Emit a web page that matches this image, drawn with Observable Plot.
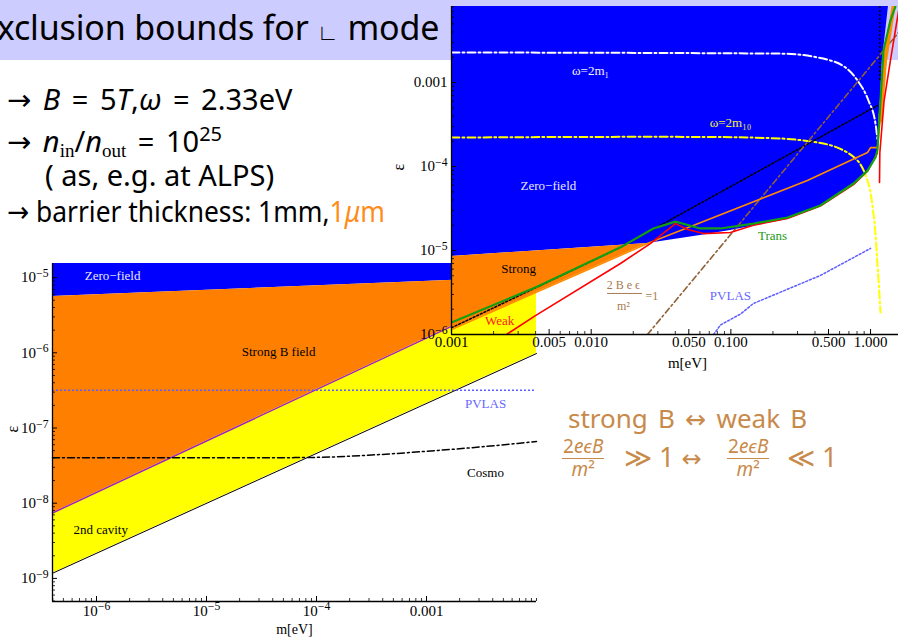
<!DOCTYPE html>
<html><head><meta charset="utf-8">
<script src="https://cdn.jsdelivr.net/npm/d3@7"></script>
<script src="https://cdn.jsdelivr.net/npm/@observablehq/plot@0.6"></script>
<style>
html,body{margin:0;padding:0;width:898px;height:640px;overflow:hidden;background:#fff;}
#stage{position:relative;width:898px;height:640px;overflow:hidden;font-family:"Noto Sans",sans-serif;color:#000;}
.abs{position:absolute;white-space:nowrap;line-height:1;}
#titlebar{left:0;top:0;width:898px;height:60px;background:#ccccff;}
#title{left:-22px;top:10px;font-size:34px;letter-spacing:-0.15px;}
.bul{font-size:29px;}
.ar{font-family:"DejaVu Sans",sans-serif;}
.m{font-style:italic;}
.rm{font-family:"Liberation Serif",serif;}
.or{color:#ff8c1a;}
.tan{color:#c88a4a;}
.chart{position:absolute;}
.frac{position:absolute;text-align:center;font-size:19px;line-height:1;color:#c88a4a;}
.frac .num{border-bottom:1.6px solid #c88a4a;padding:0 1px 2px 1px;}
.frac .den{padding-top:1px;}
sub{font-size:19px;vertical-align:-5px;}
sup{font-size:20px;vertical-align:11px;}
</style></head><body><div id="stage">
<div id="titlebar" class="abs"></div>
<div id="title" class="abs">Exclusion bounds for <span style="font-size:22px">∟</span> mode</div>
<div class="abs bul" style="left:7px;top:84px;word-spacing:4px"><span class="ar">→</span> <span class="m">B</span> = 5<span class="m">T</span>,<span class="m">ω</span> = 2.33eV</div>
<div class="abs bul" style="left:7px;top:124px;word-spacing:4px"><span class="ar">→</span> <span class="m">n</span><sub class="rm">in</sub>/<span class="m">n</span><sub class="rm">out</sub> = 10<sup>25</sup></div>
<div class="abs bul" style="left:45px;top:160px">( as, e.g. at ALPS)</div>
<div class="abs bul" style="left:7px;top:196px;transform:scaleX(0.91);transform-origin:0 0"><span class="ar">→</span> barrier thickness: 1mm,<span class="or">1<span class="m">μ</span>m</span></div>
<div id="lower" class="chart" style="left:0;top:240px"></div>
<div id="upper" class="chart" style="left:380px;top:0"></div>
<div class="abs tan" style="left:568px;top:405px;font-size:26px;word-spacing:3.5px">strong B <span class="ar" style="font-size:25px">↔</span> weak B</div>
<div class="frac" style="left:562px;top:437px"><div class="num">2<span class="m">eϵB</span></div><div class="den"><span class="m">m</span>²</div></div>
<div class="abs tan" style="left:624px;top:443px;font-size:27px">≫ 1 <span class="ar" style="font-size:24px">↔</span></div>
<div class="frac" style="left:727px;top:437px"><div class="num">2<span class="m">eϵB</span></div><div class="den"><span class="m">m</span>²</div></div>
<div class="abs tan" style="left:787px;top:443px;font-size:27px">≪ 1</div>
</div>
<script>
// ================= LOWER CHART DATA =================
const lowXDomain = [3.98e-7, 1e-2];
const lowYDomain = [4.93e-10, 1.54e-5];
const lowBoundM = [3.98e-7, 1e-2];
const lowZeroFieldEps = [5.62e-6, 1.02e-5];   // lower edge of zero-field region
const lowStrongEps = [7.41e-9, 7.59e-6];      // strong / weak boundary (purple)
const lowCavityEps = [1.17e-9, 9.77e-7];      // 2nd cavity bound (black)
const lowPvlasEps = 3.18e-7;
const cosmoM = [3.98e-7, 3.16e-5, 1e-4, 3.16e-4, 1e-3, 3.16e-3, 1e-2];
const cosmoEps = [4.02e-8, 4.02e-8, 4.07e-8, 4.37e-8, 4.90e-8, 5.62e-8, 6.61e-8];
const lowLabels = ["Zero−field", "Strong B field", "PVLAS", "Cosmo", "2nd cavity"];
const lowLabelM = [1.40e-6, 4.52e-5, 3.44e-3, 3.44e-3, 1.09e-6];
const lowLabelEps = [1.06e-5, 1.03e-6, 2.09e-7, 2.51e-8, 4.37e-9];
const lowLabelColors = ["#e8e8ff", "#000", "#6666ff", "#000", "#000"];
const lowXMajor = [1e-6, 1e-5, 1e-4, 1e-3];
const lowXTickLabels = ["10⁻⁶", "10⁻⁵", "10⁻⁴", "0.001"];
const lowYMajor = [1e-9, 1e-8, 1e-7, 1e-6, 1e-5];
const lowYTickLabels = ["10⁻⁹", "10⁻⁸", "10⁻⁷", "10⁻⁶", "10⁻⁵"];

// ================= UPPER CHART DATA =================
const upXDomain = [1e-3, 1.585];
const upYDomain = [1e-6, 8.04e-3];
const zeroM   = [1e-3, 0.0253, 0.0605, 0.0993, 0.254, 0.437, 0.755, 0.951, 1.12, 1.159, 1.216, 1.343];
const zeroEps = [8.51e-6, 1.21e-5, 1.51e-5, 1.73e-5, 2.34e-5, 3.34e-5, 5.94e-5, 8.71e-5, 1.43e-4, 3.53e-4, 1.83e-3, 8.04e-3];
const strongM = [1e-3, 0.0253];
const strongLow = [1.15e-6, 1.21e-5];
const strongHigh = [8.51e-6, 1.21e-5];
const transM   = [1e-3, 0.00413, 0.0162, 0.0279, 0.0401, 0.0605, 0.0843, 0.145, 0.254, 0.437, 0.755, 0.951, 1.084, 1.12, 1.178, 1.237, 1.387, 1.507];
const transEps = [1.39e-6, 3.72e-6, 1.09e-5, 1.83e-5, 2.21e-5, 1.83e-5, 1.83e-5, 2.09e-5, 2.47e-5, 3.44e-5, 6.28e-5, 8.95e-5, 1.28e-4, 1.55e-4, 6.11e-4, 2.40e-3, 5.47e-3, 8.04e-3];
const weakM   = [0.00248, 0.00399, 0.0162, 0.0265, 0.0401, 0.0489, 0.0637, 0.0993, 0.145, 0.254, 0.437, 0.755, 0.951, 1.12];
const weakEps = [1e-6, 1.68e-6, 7.0e-6, 1.21e-5, 2.09e-5, 1.78e-5, 1.59e-5, 1.64e-5, 2.0e-5, 2.40e-5, 3.39e-5, 6.1e-5, 8.8e-5, 1.45e-4];
const weak2M   = [1.159, 1.165, 1.25, 1.40, 1.585];
const weak2Eps = [6.46e-5, 1.45e-4, 6.1e-4, 2.0e-3, 7.0e-3];
const orangeM   = [1e-3, 0.0253, 0.353, 0.951, 1.0, 1.12, 1.17, 1.27, 1.46];
const orangeEps = [1.15e-6, 1.21e-5, 6.81e-5, 1.47e-4, 1.68e-4, 1.68e-4, 3.5e-4, 1.8e-3, 8.04e-3];
const dotM   = [1e-3, 0.0162, 1.12];
const dotEps = [1.2e-6, 1.09e-5, 5.32e-4];
const mMax = 1.165, mMaxEpsLow = 1.06e-3;
const w1M   = [1e-3, 0.226, 0.516, 0.805, 0.966, 1.084, 1.14];
const w1Eps = [2.28e-3, 2.21e-3, 1.83e-3, 1.06e-3, 6.11e-4, 3.25e-4, 1.68e-4];
const w10M   = [1e-3, 0.145, 0.331, 0.579, 0.805, 0.951, 1.05, 1.12, 1.178];
const w10Eps = [2.21e-4, 2.21e-4, 2.04e-4, 1.68e-4, 1.18e-4, 6.81e-5, 2.75e-5, 7.0e-6, 1.83e-6];
const brownM = [0.0253, 1.585];
const brownEps = [1e-6, 3.93e-3];
const pvlasM   = [0.0752, 0.0843, 0.117, 0.145, 0.437, 1.0];
const pvlasEps = [1e-6, 1.3e-6, 1.75e-6, 2.34e-6, 5.04e-6, 1.06e-5];
const upLabels = ["ω=2m₁", "ω=2m₁₀", "Zero−field", "Strong", "Weak", "Trans", "PVLAS"];
const upLabelM = [9.89e-3, 0.0993, 4.94e-3, 3.02e-3, 2.21e-3, 0.199, 0.0993];
const upLabelEps = [1.39e-3, 3.34e-4, 5.94e-5, 6.11e-6, 1.47e-6, 1.51e-5, 2.91e-6];
const upLabelColors = ["#f4f4ff", "#f0f040", "#e8e8ff", "#000", "#ff1a1a", "#1a9a1a", "#6666ff"];
const upLabelItalic = ["italic", "italic", "normal", "normal", "normal", "normal", "normal"];
const fracParts = ["2 B e ϵ", "m²", "=1"];
const fracM = [0.017, 0.017, 0.0272];
const fracEps = [3.83e-6, 2.15e-6, 2.83e-6];
const fracBarM = [0.0131, 0.0233];
const fracBarEps = 3.08e-6;
const upXMajor = [0.001, 0.005, 0.01, 0.05, 0.1, 0.5, 1];
const upXTickLabels = ["0.001", "0.005", "0.010", "0.050", "0.100", "0.500", "1.000"];
const upYMajor = [1e-6, 1e-5, 1e-4, 1e-3];
const upYTickLabels = ["10⁻⁶", "10⁻⁵", "10⁻⁴", "0.001"];

// ================= helpers =================
const idx = a => a.map((_, i) => i);
const minorTicks = (domain, majors) =>
  d3.scaleLog().domain(domain).ticks().filter(t => !majors.some(m => Math.abs(m - t) / m < 1e-9));
const SERIF = "Liberation Serif, Times New Roman, serif";

function tickMarks(xDom, yDom, xMajor, yMajor, innerW, innerH) {
  const xMinor = minorTicks(xDom, xMajor), yMinor = minorTicks(yDom, yMajor);
  return [
    Plot.tickX(xMajor, {x: d => d, insetTop: innerH - 5, stroke: "#000", strokeWidth: 1}),
    Plot.tickX(xMinor, {x: d => d, insetTop: innerH - 3, stroke: "#000", strokeWidth: 0.8}),
    Plot.tickY(yMajor, {y: d => d, insetRight: innerW - 5, stroke: "#000", strokeWidth: 1}),
    Plot.tickY(yMinor, {y: d => d, insetRight: innerW - 3, stroke: "#000", strokeWidth: 0.8}),
    Plot.ruleX([xDom[0]], {stroke: "#000", strokeWidth: 1.3}),
    Plot.ruleY([yDom[0]], {stroke: "#000", strokeWidth: 1.3})
  ];
}

// turn "10⁻⁶" tick labels into 10 + raised superscript
function fixSuperscripts(svg) {
  const map = {"⁻": "−", "⁰": "0", "¹": "1", "²": "2", "³": "3", "⁴": "4", "⁵": "5", "⁶": "6", "⁷": "7", "⁸": "8", "⁹": "9"};
  svg.querySelectorAll("text").forEach(node => {
    const t = node.textContent;
    const m = t.match(/^10([⁻⁰¹²³⁴⁵⁶⁷⁸⁹]+)$/u);
    if (!m) return;
    node.textContent = "10";
    const ts = document.createElementNS("http://www.w3.org/2000/svg", "tspan");
    ts.setAttribute("dy", "-0.45em");
    ts.setAttribute("font-size", "0.78em");
    ts.textContent = [...m[1]].map(c => map[c]).join("");
    node.appendChild(ts);
  });
}

// ================= LOWER CHART =================
const lowB = idx(lowBoundM);
const lower = Plot.plot({
  width: 560, height: 400,
  marginLeft: 52, marginRight: 24, marginTop: 23, marginBottom: 39,
  x: {type: "log", domain: lowXDomain, axis: null},
  y: {type: "log", domain: lowYDomain, axis: null},
  style: {background: "transparent", overflow: "visible", fontFamily: SERIF, fontSize: "14px"},
  marks: [
    Plot.areaY(lowB, {x: i => lowBoundM[i], y1: i => lowZeroFieldEps[i], y2: () => lowYDomain[1], fill: "#0000ff", curve: "linear"}),
    Plot.areaY(lowB, {x: i => lowBoundM[i], y1: i => lowStrongEps[i], y2: i => lowZeroFieldEps[i], fill: "#ff8000", curve: "linear"}),
    Plot.areaY(lowB, {x: i => lowBoundM[i], y1: i => lowCavityEps[i], y2: i => lowStrongEps[i], fill: "#ffff00", curve: "linear"}),
    Plot.line(lowB, {x: i => lowBoundM[i], y: i => lowCavityEps[i], stroke: "#000", strokeWidth: 1}),
    Plot.line(lowB, {x: i => lowBoundM[i], y: i => lowStrongEps[i], stroke: "#a020c0", strokeWidth: 1.5}),
    Plot.ruleY([lowPvlasEps], {stroke: "#5c5cff", strokeWidth: 1.5, strokeDasharray: "2,2"}),
    Plot.line(idx(cosmoM), {x: i => cosmoM[i], y: i => cosmoEps[i], stroke: "#000", strokeWidth: 1.5, strokeDasharray: "7,3,2,3", curve: "monotone-x"}),
    Plot.text(idx(lowLabels), {x: i => lowLabelM[i], y: i => lowLabelEps[i], text: i => lowLabels[i], fill: i => lowLabelColors[i], fontSize: 13, fontFamily: SERIF}),
    ...tickMarks(lowXDomain, lowYDomain, lowXMajor, lowYMajor, 484, 338),
    Plot.text(idx(lowXMajor), {x: i => lowXMajor[i], text: i => lowXTickLabels[i], frameAnchor: "bottom", dy: 14, fontSize: 15, fontFamily: SERIF}),
    Plot.text(idx(lowYMajor), {y: i => lowYMajor[i], text: i => lowYTickLabels[i], frameAnchor: "left", dx: -4, textAnchor: "end", fontSize: 15, fontFamily: SERIF}),
    Plot.text(["m[eV]"], {text: d => d, frameAnchor: "bottom", dy: 32, fontSize: 14, fontFamily: SERIF}),
    Plot.text(["ε"], {text: d => d, frameAnchor: "left", dx: -40, rotate: -90, fontSize: 16, fontFamily: SERIF})
  ]
});
fixSuperscripts(lower);
document.getElementById("lower").append(lower);

// ================= UPPER CHART =================
const line = (M, E, opts) => Plot.line(idx(M), {x: i => M[i], y: i => E[i], clip: true, ...opts});
const upper = Plot.plot({
  width: 518, height: 380,
  marginLeft: 71, marginRight: 0, marginTop: 6, marginBottom: 46,
  x: {type: "log", domain: upXDomain, axis: null},
  y: {type: "log", domain: upYDomain, axis: null},
  style: {background: "transparent", overflow: "visible", fontFamily: SERIF, fontSize: "14px"},
  marks: [
    Plot.areaY(idx(zeroM), {x: i => zeroM[i], y1: i => zeroEps[i], y2: () => upYDomain[1], fill: "#0000ff", curve: "linear", clip: true}),
    Plot.areaY(idx(strongM), {x: i => strongM[i], y1: i => strongLow[i], y2: i => strongHigh[i], fill: "#ff8000", curve: "linear"}),
    Plot.ruleX([mMax], {y1: mMaxEpsLow, y2: upYDomain[1], stroke: "#000", strokeWidth: 1.5, strokeDasharray: "2,2"}),
    line(w1M, w1Eps, {stroke: "#ffffff", strokeWidth: 2, strokeDasharray: "8,3,2,3", curve: "monotone-x"}),
    line(w10M, w10Eps, {stroke: "#ffff00", strokeWidth: 2, strokeDasharray: "8,3,2,3", curve: "catmull-rom"}),
    line(dotM, dotEps, {stroke: "#000", strokeWidth: 1.5, strokeDasharray: "2,2"}),
    line(brownM, brownEps, {stroke: "#8f6035", strokeWidth: 1.6, strokeDasharray: "6,3,2,3"}),
    line(pvlasM, pvlasEps, {stroke: "#5c5cff", strokeWidth: 1.5, strokeDasharray: "2,2"}),
    line(orangeM, orangeEps, {stroke: "#ff8c00", strokeWidth: 1.6}),
    line(orangeM.slice(6), orangeEps.slice(6), {stroke: "#ff8c00", strokeWidth: 4}),
    line(weakM, weakEps, {stroke: "#ff0000", strokeWidth: 1.6}),
    line(weak2M, weak2Eps, {stroke: "#ff0000", strokeWidth: 1.6}),
    line(transM, transEps, {stroke: "#12a012", strokeWidth: 2.2}),
    Plot.text(idx(upLabels), {x: i => upLabelM[i], y: i => upLabelEps[i], text: i => upLabels[i], fill: i => upLabelColors[i], fontStyle: i => upLabelItalic[i], fontSize: 13, fontFamily: SERIF}),
    Plot.text(idx(fracParts), {x: i => fracM[i], y: i => fracEps[i], text: i => fracParts[i], fill: "#a87c50", fontStyle: i => (i < 2 ? "italic" : "normal"), fontSize: 12, fontFamily: SERIF}),
    Plot.ruleY([fracBarEps], {x1: fracBarM[0], x2: fracBarM[1], stroke: "#a87c50", strokeWidth: 1}),
    ...tickMarks(upXDomain, upYDomain, upXMajor, upYMajor, 447, 328),
    Plot.text(idx(upXMajor), {x: i => upXMajor[i], text: i => upXTickLabels[i], frameAnchor: "bottom", dy: 12, fontSize: 15, fontFamily: SERIF}),
    Plot.text(idx(upYMajor), {y: i => upYMajor[i], text: i => upYTickLabels[i], frameAnchor: "left", dx: -4, textAnchor: "end", fontSize: 15, fontFamily: SERIF}),
    Plot.text(["m[eV]"], {x: () => 0.0489, text: d => d, frameAnchor: "bottom", dy: 33, fontSize: 15, fontFamily: SERIF}),
    Plot.text(["ε"], {text: d => d, frameAnchor: "left", dx: -53, rotate: -90, fontSize: 16, fontFamily: SERIF})
  ]
});
fixSuperscripts(upper);
document.getElementById("upper").append(upper);
</script>
</body></html>
